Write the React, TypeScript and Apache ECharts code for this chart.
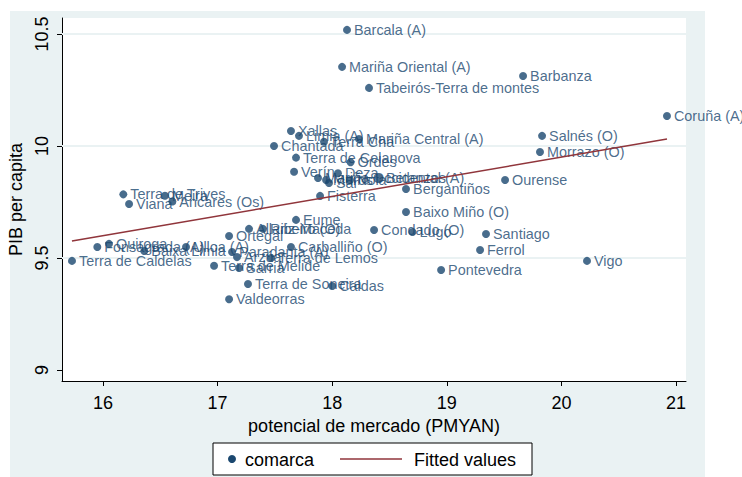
import React, { useEffect, useRef } from "react";
import * as echarts from "echarts";

// comarcas (labels), potencial de mercado (x) and PIB per capita (y)
const names: string[] = [
  "Barcala (A)", "Mariña Oriental (A)", "Barbanza", "Tabeirós-Terra de montes", "Coruña (A)",
  "Salnés (O)", "Morrazo (O)", "Ourense", "Xallas", "Limia (A)",
  "Terra Chá", "Mariña Central (A)", "Chantada", "Terra de Celanova", "Ordes",
  "Verín", "Deza", "Mariña Occidental (A)", "Muros", "Sar",
  "Noia", "Betanzos", "Bergantiños", "Fisterra", "Baixo Miño (O)",
  "Eume", "Allariz-Maceda", "Ribeiro (O)", "Condado (O)", "Lugo",
  "Santiago", "Ferrol", "Vigo", "Pontevedra", "Ortegal",
  "Carballiño (O)", "Ulloa (A)", "Fonsagrada (A)", "Quiroga", "Baixa Limia",
  "Terra de Caldelas", "Paradanta (A)", "Arzúa", "Terra de Lemos", "Terra de Melide",
  "Sarria", "Terra de Soneira", "Caldas", "Valdeorras", "Terra de Trives",
  "Meira", "Viana", "Ancares (Os)",
];
const xValues: number[] = [
  18.129, 18.086, 19.665, 18.321, 20.921,
  19.831, 19.813, 19.508, 17.640, 17.710,
  17.928, 18.233, 17.492, 17.684, 18.160,
  17.667, 18.050, 17.876, 17.946, 17.972,
  18.155, 18.408, 18.644, 17.894, 18.644,
  17.684, 17.274, 17.396, 18.365, 18.700,
  19.342, 19.290, 20.223, 18.950, 17.100,
  17.640, 16.724, 15.950, 16.052, 16.360,
  15.729, 17.126, 17.169, 17.466, 16.969,
  17.187, 17.265, 18.000, 17.100, 16.177,
  16.540, 16.227, 16.605,
];
const yValues: number[] = [
  10.518, 10.353, 10.312, 10.259, 10.134,
  10.045, 9.973, 9.848, 10.067, 10.045,
  10.019, 10.031, 10.000, 9.948, 9.927,
  9.885, 9.878, 9.857, 9.848, 9.835,
  9.848, 9.857, 9.808, 9.777, 9.705,
  9.670, 9.630, 9.630, 9.625, 9.616,
  9.607, 9.536, 9.487, 9.446, 9.598,
  9.549, 9.549, 9.549, 9.563, 9.531,
  9.487, 9.527, 9.504, 9.500, 9.465,
  9.455, 9.384, 9.375, 9.316, 9.784,
  9.778, 9.741, 9.752,
];
// fitted values (endpoints of the regression line)
const fitX: number[] = [15.729, 20.921];
const fitY: number[] = [9.576, 10.031];

const xTicks: number[] = [16, 17, 18, 19, 20, 21];
const yTicks: number[] = [9, 9.5, 10, 10.5];
const yGridLines: number[] = [9.5, 10, 10.5];

const NAVY = "#1a476f";
const MAROON = "#90353b";
const BG = "#eaf2f3";
const FONT = "'Liberation Sans', Arial, sans-serif";

export default function App() {
  const ref = useRef<HTMLDivElement>(null);
  useEffect(() => {
    if (!ref.current) return;
    const chart = echarts.init(ref.current, undefined, { renderer: "svg" });
    const points = names.map((n, i) => [xValues[i], yValues[i], n]);
    const fit = fitX.map((x, i) => [x, fitY[i]]);
    chart.setOption({
      animation: false,
      backgroundColor: BG,
      grid: {
        left: 62, right: 56, top: 18, bottom: 96,
        outerBoundsMode: "none", containLabel: false,
        show: true, backgroundColor: "#ffffff", borderWidth: 0,
      },
      xAxis: {
        type: "value", min: 15.642, max: 21.087,
        name: "potencial de mercado (PMYAN)", nameLocation: "middle", nameGap: 29,
        nameTextStyle: { fontFamily: FONT, fontSize: 18, color: "#000" },
        axisLine: { show: true, onZero: false, lineStyle: { color: "#000", width: 1 } },
        axisTick: { show: true, length: 5, customValues: xTicks, lineStyle: { color: "#000" } },
        axisLabel: { customValues: xTicks, fontFamily: FONT, fontSize: 18, color: "#000", margin: 13 },
        splitLine: { show: false },
      },
      yAxis: {
        type: "value", min: 8.951, max: 10.571,
        name: "PIB per capita", nameLocation: "middle", nameGap: 35, nameRotate: 90,
        nameTextStyle: { fontFamily: FONT, fontSize: 18, color: "#000" },
        axisLine: { show: true, onZero: false, lineStyle: { color: "#000", width: 1 } },
        axisTick: { show: true, length: 5, customValues: yTicks, lineStyle: { color: "#000" } },
        axisLabel: { customValues: yTicks, rotate: 90, fontFamily: FONT, fontSize: 18, color: "#000", margin: 11 },
        splitLine: { show: false },
      },
      graphic: [
        { type: "rect", silent: true, shape: { x: 0, y: 0, width: 742, height: 11 }, style: { fill: "#fff" } },
        { type: "rect", silent: true, shape: { x: 0, y: 0, width: 10, height: 477 }, style: { fill: "#fff" } },
        { type: "rect", silent: true, shape: { x: 705, y: 0, width: 37, height: 477 }, style: { fill: "#fff" } },
        { type: "rect", shape: { x: 213, y: 443, width: 319, height: 32 }, style: { fill: "#fff", stroke: "#000", lineWidth: 1 } },
        { type: "circle", shape: { cx: 232, cy: 459, r: 4 }, style: { fill: NAVY } },
        { type: "text", x: 245, y: 460, style: { text: "comarca", fill: "#000", font: `18px ${FONT}`, verticalAlign: "middle" } },
        { type: "line", shape: { x1: 340, y1: 459, x2: 402, y2: 459 }, style: { stroke: MAROON, lineWidth: 1.5 } },
        { type: "text", x: 414, y: 460, style: { text: "Fitted values", fill: "#000", font: `18px ${FONT}`, verticalAlign: "middle" } },
      ],
      series: [
        {
          type: "scatter", z: 3, data: points, symbol: "circle", symbolSize: 8,
          itemStyle: { color: NAVY },
          label: {
            show: true, position: "right", distance: 3,
            formatter: (p: any) => p.data[2],
            color: NAVY, fontFamily: FONT, fontSize: 14.4,
          },
          markLine: {
            silent: true, z: 1, symbol: "none", label: { show: false },
            lineStyle: { color: BG, width: 2, type: "solid" },
            data: yGridLines.map((v) => ({ yAxis: v })),
          },
        },
        {
          type: "line", z: 4, data: fit, symbol: "none",
          lineStyle: { color: MAROON, width: 1.5 },
        },
      ],
    });
    return () => chart.dispose();
  }, []);
  return <div ref={ref} style={{ position: "fixed", left: 0, top: 0, width: 742, height: 477 }} />;
}
